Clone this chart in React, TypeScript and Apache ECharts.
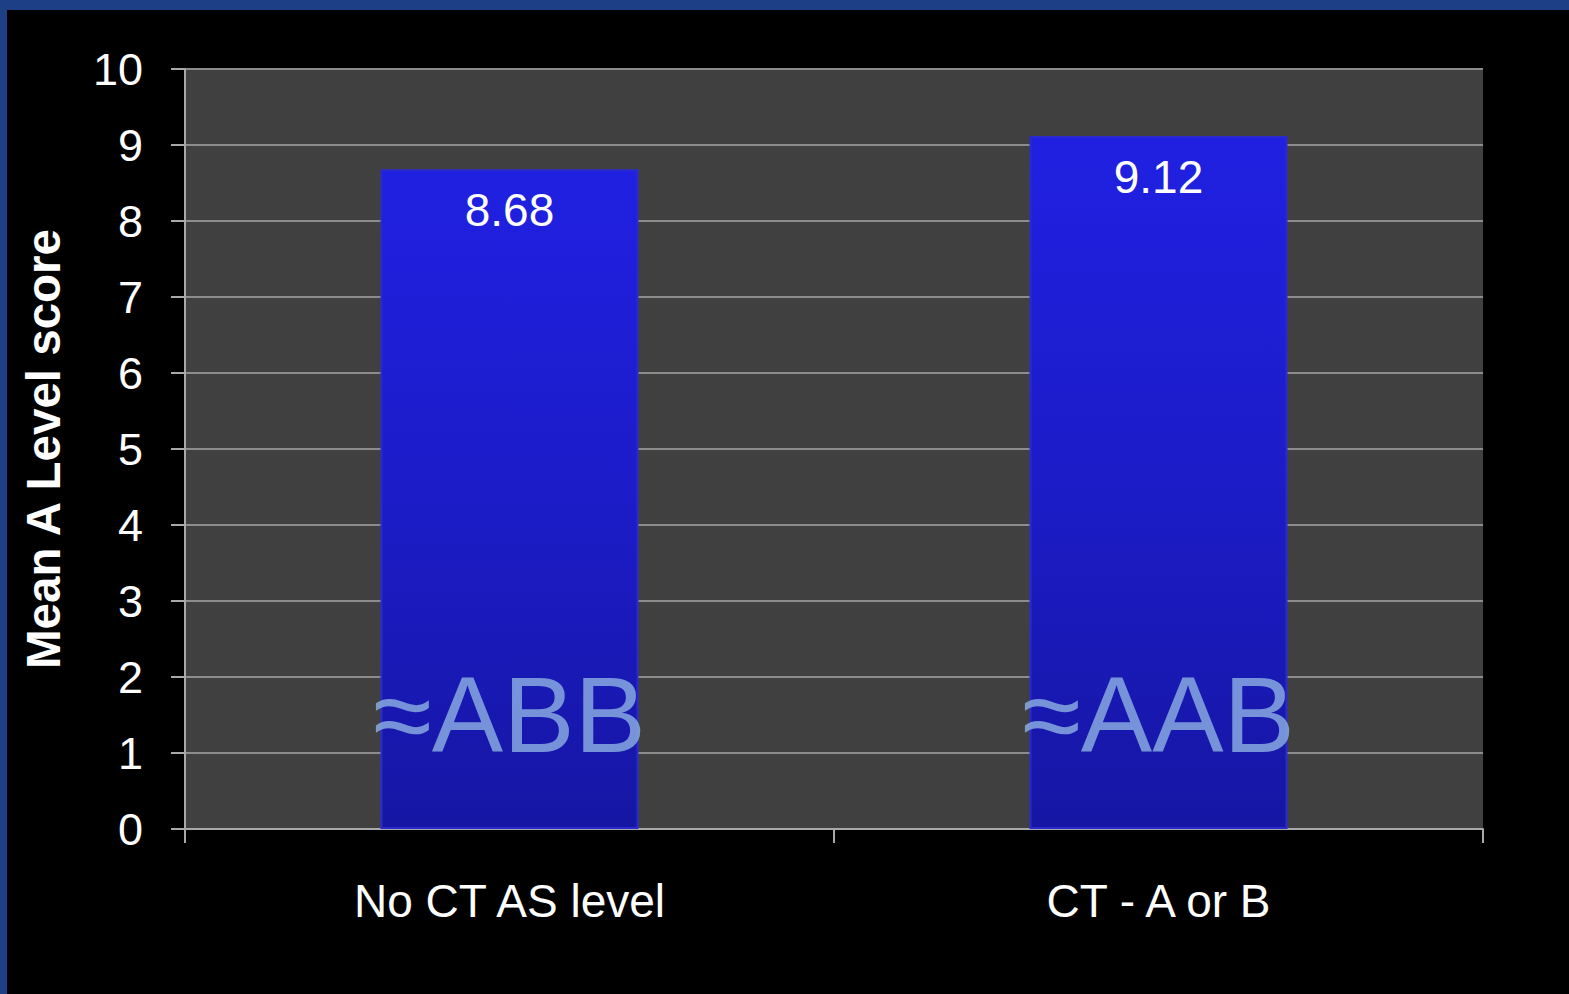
import React, { useEffect, useRef } from "react";
import * as echarts from "echarts";

const categories = ["No CT AS level", "CT - A or B"];
const meanScores = [8.68, 9.12];
const gradeLabels = ["≈ABB", "≈AAB"];
const gradeLabelLevel = [1.5, 1.5];
const yTicks = { min: 0, max: 10, interval: 1 };

export default function App() {
  const ref = useRef<HTMLDivElement>(null);
  useEffect(() => {
    document.body.style.margin = "0";
    const chart = echarts.init(ref.current!, undefined, { renderer: "svg" });
    const font = "Liberation Sans, Arial, sans-serif";
    chart.setOption({
      animation: false,
      backgroundColor: "#000000",
      textStyle: { fontFamily: font },
      graphic: [
        { type: "rect", left: 0, top: 0, shape: { width: 1569, height: 10 }, style: { fill: "#1c3f86" }, z: 100 },
        { type: "rect", left: 0, top: 0, shape: { width: 7, height: 994 }, style: { fill: "#1c3f86" }, z: 100 },
      ],
      grid: { left: 185, right: 86, top: 69, bottom: 165, show: true, backgroundColor: "#404040", borderWidth: 0 },
      xAxis: {
        type: "category",
        data: categories,
        axisLine: { show: true, lineStyle: { color: "#a8a8a8", width: 2 } },
        axisTick: { show: true, length: 14, lineStyle: { color: "#a8a8a8", width: 2 } },
        axisLabel: { color: "#ffffff", fontSize: 46, margin: 49, fontFamily: font },
      },
      yAxis: {
        type: "value",
        min: yTicks.min,
        max: yTicks.max,
        interval: yTicks.interval,
        name: "Mean A Level score",
        nameLocation: "middle",
        nameGap: 118,
        nameTextStyle: { color: "#ffffff", fontSize: 47.5, fontWeight: "bold", fontFamily: font },
        axisLine: { show: true, lineStyle: { color: "#a8a8a8", width: 2 } },
        axisTick: { show: true, length: 14, lineStyle: { color: "#a8a8a8", width: 2 } },
        axisLabel: { color: "#ffffff", fontSize: 45, margin: 42, fontFamily: font },
        splitLine: { show: true, lineStyle: { color: "#8c8c8c", width: 2 } },
      },
      series: [
        {
          type: "bar",
          data: meanScores,
          barWidth: 258,
          itemStyle: {
            color: new echarts.graphic.LinearGradient(0, 0, 0, 1, [
              { offset: 0, color: "#2020e2" },
              { offset: 0.5, color: "#1c1cc8" },
              { offset: 1, color: "#1616a4" },
            ]),
            borderColor: "#2a2ad0",
            borderWidth: 2,
          },
          label: {
            show: true,
            position: "insideTop",
            distance: 18,
            color: "#ffffff",
            fontSize: 46,
            fontFamily: font,
            formatter: (p: any) => p.value.toFixed(2),
          },
          z: 2,
        },
        {
          type: "scatter",
          data: gradeLabelLevel,
          symbolSize: 0,
          label: {
            show: true,
            position: "inside",
            color: "#8eb2e4",
            fontSize: 107,
            fontFamily: font,
            formatter: (p: any) => gradeLabels[p.dataIndex],
          },
          z: 5,
        },
      ],
    });
    return () => chart.dispose();
  }, []);
  return <div ref={ref} style={{ width: 1569, height: 994 }} />;
}
